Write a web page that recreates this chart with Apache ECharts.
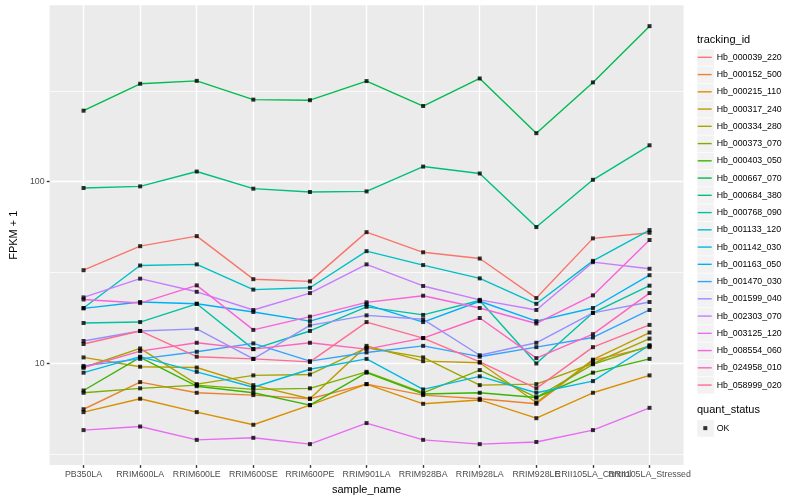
<!DOCTYPE html>
<html><head><meta charset="utf-8">
<script src="https://cdn.jsdelivr.net/npm/echarts@6/dist/echarts.min.js"></script>
<style>html,body{margin:0;padding:0;background:#fff}#c{width:800px;height:500px}</style>
</head><body><div id="c"></div>
<script>
const categories = ['PB350LA','RRIM600LA','RRIM600LE','RRIM600SE','RRIM600PE','RRIM901LA','RRIM928BA','RRIM928LA','RRIM928LE','RRII105LA_Control','RRII105LA_Stressed'];
const trackingIds = ['Hb_000039_220','Hb_000152_500','Hb_000215_110','Hb_000317_240','Hb_000334_280','Hb_000373_070','Hb_000403_050','Hb_000667_070','Hb_000684_380','Hb_000768_090','Hb_001133_120','Hb_001142_030','Hb_001163_050','Hb_001470_030','Hb_001599_040','Hb_002303_070','Hb_003125_120','Hb_008554_060','Hb_024958_010','Hb_058999_020'];
const colors = ['#F8766D','#EA8331','#D89000','#C09B00','#A3A500','#7CAE00','#39B600','#00BB4E','#00BF7D','#00C1A3','#00BFC4','#00BAE0','#00B0F6','#35A2FF','#9590FF','#C77CFF','#E76BF3','#FA62DB','#FF62BC','#FF6C91'];

const hb_000039_220 = [32.6, 44.2, 50.2, 29.1, 28.3, 52.8, 40.9, 37.8, 22.9, 48.8, 52.4];
const hb_000152_500 = [5.6, 7.9, 6.9, 6.7, 6.4, 7.7, 6.7, 6.4, 6.0, 10.4, 12.3];
const hb_000215_110 = [5.4, 6.4, 5.4, 4.6, 5.9, 7.7, 6.0, 6.3, 5.0, 6.9, 8.6];
const hb_000317_240 = [10.8, 9.6, 9.5, 7.6, 6.4, 12.5, 10.3, 10.1, 6.1, 10.5, 14.8];
const hb_000334_280 = [9.5, 12.1, 7.7, 8.6, 8.7, 12.2, 10.8, 7.6, 7.7, 10.0, 13.7];
const hb_000373_070 = [6.9, 7.3, 7.6, 7.2, 7.3, 9.0, 6.9, 9.2, 6.5, 9.9, 12.5];
const hb_000403_050 = [7.1, 10.8, 7.5, 6.9, 5.9, 8.9, 6.8, 6.9, 6.5, 8.9, 10.6];
const hb_000667_070 = [246, 346, 359, 283, 281, 358, 261, 370, 185, 352, 718];
const hb_000684_380 = [92.4, 94.3, 113.8, 91.6, 87.8, 88.5, 121.2, 111, 56.3, 102.5, 158.7];
const hb_000768_090 = [16.7, 16.9, 21.3, 12.0, 15.1, 20.5, 18.5, 22.2, 10.0, 19.0, 26.8];
const hb_001133_120 = [20.2, 34.6, 35.1, 25.5, 26.1, 41.5, 34.8, 29.4, 21.3, 36.7, 54.2];
const hb_001142_030 = [8.9, 10.9, 9.0, 7.4, 9.3, 10.6, 7.2, 8.5, 6.9, 8.0, 12.6];
const hb_001163_050 = [20.1, 21.8, 21.3, 19.2, 17.1, 21.1, 16.9, 22.0, 17.1, 20.2, 30.6];
const hb_001470_030 = [9.7, 10.6, 11.6, 12.9, 10.3, 11.5, 12.5, 10.9, 12.3, 13.9, 19.7];
const hb_001599_040 = [13.3, 15.1, 15.5, 10.6, 16.2, 18.4, 17.5, 11.1, 13.0, 19.0, 21.8];
const hb_002303_070 = [23.1, 29.3, 24.8, 19.7, 24.4, 35.1, 26.7, 22.4, 19.7, 36.1, 33.2];
const hb_003125_120 = [4.3, 4.5, 3.8, 3.9, 3.6, 4.7, 3.8, 3.6, 3.7, 4.3, 5.7];
const hb_008554_060 = [22.5, 21.5, 26.9, 15.3, 18.1, 21.7, 23.6, 20.2, 16.6, 23.7, 47.8];
const hb_024958_010 = [9.5, 11.7, 13.0, 12.0, 13.0, 12.0, 13.8, 17.8, 10.7, 14.5, 24.4];
const hb_058999_020 = [12.8, 15.1, 10.9, 10.6, 10.2, 16.9, 13.8, 10.2, 7.3, 12.3, 16.3];

const seriesValues = [hb_000039_220, hb_000152_500, hb_000215_110, hb_000317_240, hb_000334_280, hb_000373_070, hb_000403_050, hb_000667_070, hb_000684_380, hb_000768_090, hb_001133_120, hb_001142_030, hb_001163_050, hb_001470_030, hb_001599_040, hb_002303_070, hb_003125_120, hb_008554_060, hb_024958_010, hb_058999_020];
const yTickLabels = [10, 100];
const yMinorBreaks = [3.1623, 31.623, 316.23];
const quantStatus = ['OK'];

const FONT = 'Liberation Sans, Arial, Helvetica, sans-serif';
const catPos = categories.map((c, i) => i + 1);
// odd / even positions on two label axes so ECharts never drops an overlapping label
const catPosA = catPos.filter(p => p % 2 === 1);
const catPosB = catPos.filter(p => p % 2 === 0);

const LINE_W = 1.4;
const series = seriesValues.map((vals, k) => ({
  name: trackingIds[k], type: 'line', color: colors[k], xAxisIndex: 0, yAxisIndex: 0,
  data: vals.map((v, i) => [i + 1, v]),
  showSymbol: false, symbol: 'none',
  lineStyle: { width: LINE_W, color: colors[k] },
  emphasis: { disabled: true }, animation: false
}));
const pts = [];
seriesValues.forEach(vals => vals.forEach((v, i) => pts.push([i + 1, v])));
series.push({
  name: quantStatus[0], type: 'scatter', data: pts, symbol: 'rect', symbolSize: 4, xAxisIndex: 0, yAxisIndex: 0,
  color: '#000', itemStyle: { color: '#000' }, z: 5, animation: false, emphasis: { disabled: true }
});

const LEG_TOP = 48.7, LEG_STEP = 17.25, KEY_X = 696.7;
const graphics = trackingIds.map((id, i) => ({
  type: 'rect', left: KEY_X, top: LEG_TOP + i * LEG_STEP, z: 0,
  shape: { width: 17.25, height: 17.25 },
  style: { fill: '#F2F2F2', stroke: '#fff', lineWidth: 0.5 }
}));
const OK_TOP = 419.5;
graphics.push({ type: 'rect', left: KEY_X, top: OK_TOP, z: 0, shape: { width: 17.25, height: 17.25 }, style: { fill: '#F2F2F2', stroke: '#fff', lineWidth: 0.5 } });

const xLabelStyle = { formatter: v => categories[Math.round(v) - 1], fontSize: 8.8, color: '#4D4D4D', margin: 5, hideOverlap: false, showMinLabel: true, showMaxLabel: true, fontFamily: FONT };

const chart = echarts.init(document.getElementById('c'));
chart.setOption({
  animation: false,
  backgroundColor: '#fff',
  textStyle: { fontFamily: FONT },
  title: [
    { text: 'tracking_id', left: 697, top: 34.5, padding: 0, textStyle: { fontSize: 11, fontWeight: 'normal', color: '#000', fontFamily: FONT } },
    { text: 'quant_status', left: 697, top: 404.5, padding: 0, textStyle: { fontSize: 11, fontWeight: 'normal', color: '#000', fontFamily: FONT } }
  ],
  grid: { left: 40, right: 116.5, top: 5.3, bottom: 31.7, show: true, backgroundColor: '#EBEBEB', borderWidth: 0 },
  xAxis: [{
    type: 'value', min: 0.4, max: 11.6, position: 'bottom',
    name: 'sample_name', nameLocation: 'middle', nameGap: 15,
    nameTextStyle: { fontSize: 11, color: '#000', fontFamily: FONT },
    axisLine: { show: false },
    axisTick: { show: true, customValues: catPos, length: 2.75, lineStyle: { color: '#333', width: LINE_W } },
    axisLabel: Object.assign({ customValues: catPosA }, xLabelStyle),
    splitLine: { show: true, lineStyle: { color: '#fff', width: LINE_W } }
  }, {
    type: 'value', min: 0.4, max: 11.6, position: 'bottom', offset: 0,
    axisLine: { show: false },
    axisTick: { show: false, customValues: catPosB },
    axisLabel: Object.assign({ customValues: catPosB }, xLabelStyle),
    splitLine: { show: false }
  }],
  yAxis: [{
    type: 'log', logBase: 10, min: 2.76, max: 935,
    name: 'FPKM + 1', nameLocation: 'middle', nameGap: 24, nameRotate: 90,
    nameTextStyle: { fontSize: 11, color: '#000', fontFamily: FONT },
    axisLine: { show: false },
    axisTick: { show: true, customValues: yTickLabels, length: 2.75, lineStyle: { color: '#333', width: LINE_W } },
    axisLabel: { customValues: yTickLabels, formatter: v => String(v), fontSize: 8.8, color: '#4D4D4D', margin: 5, showMinLabel: true, showMaxLabel: true, fontFamily: FONT },
    splitLine: { show: true, lineStyle: { color: '#fff', width: LINE_W } }
  }, {
    type: 'log', logBase: 10, min: 2.76, max: 935, position: 'left',
    axisLine: { show: false },
    axisTick: { show: false, customValues: yMinorBreaks },
    axisLabel: { show: false, customValues: yMinorBreaks },
    splitLine: { show: true, lineStyle: { color: '#fff', width: 0.7 } }
  }],
  legend: [{
    data: trackingIds, orient: 'vertical', left: 697.7, top: LEG_TOP, padding: 0, itemGap: 0,
    icon: 'rect', itemWidth: 14, itemHeight: LINE_W, selectedMode: false,
    textStyle: { fontSize: 8.8, color: '#000', fontFamily: FONT, lineHeight: 17.25, height: 17.25 }
  }, {
    data: quantStatus, orient: 'vertical', left: 703.3, top: OK_TOP, padding: 0, itemGap: 0,
    icon: 'rect', itemWidth: 4, itemHeight: 4, selectedMode: false,
    textStyle: { fontSize: 8.8, color: '#000', fontFamily: FONT, lineHeight: 17.25, height: 17.25, padding: [0, 0, 0, 4.4] }
  }],
  graphic: graphics,
  series: series
});
</script></body></html>
